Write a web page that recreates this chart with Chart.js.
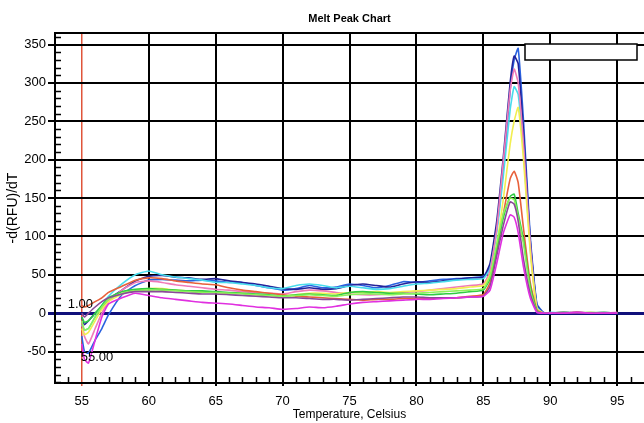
<!DOCTYPE html>
<html><head><meta charset="utf-8">
<script src="https://cdn.jsdelivr.net/npm/chart.js@4.4.0/dist/chart.umd.min.js"></script>
<style>html,body{margin:0;padding:0;background:#fff;}canvas{display:block;}</style>
</head><body>
<canvas id="c" width="644" height="423"></canvas>
<script>
// Temperature (Celsius) sample points
const temps = [55,55.2,55.5,56,56.5,57,
  58,59,60,61,62,63,64,65,66,67,68,69,70,71,72,73,74,75,76,77,78,79,80,81,82,83,84,85,
  85.5,86,86.5,87,87.3,87.6,88,88.5,89,89.5,
  90,91,92,93,94,95];

// -d(RFU)/dT series
const blue = [-30,-50,-52,-35,-20,-2,
  24,36,43,44,43,42,43,42,40,40,36,33,30,32,36,33,34,38,36,33,36,41,40,42,44,45,46,48,
  60,110,190,290,330,345,250,100,12,1,
  0,1,0,0,1,0];
const navy = [-5,-15,-10,0,8,18,
  30,42,48,49,47,46,44,45,42,40,38,35,32,31,33,31,32,36,38,36,34,38,41,40,42,44,46,47,
  65,120,205,300,335,325,235,95,10,0,
  0,0,1,0,0,0];
const cyan = [-15,-22,-20,-5,10,22,
  38,50,55,50,47,45,43,40,40,38,36,33,32,36,38,36,33,35,33,31,32,35,38,39,41,43,44,45,
  58,105,180,265,295,285,210,85,8,0,
  1,0,0,1,0,0];
const pink = [-10,-30,-40,-20,0,15,
  30,40,42,40,37,35,33,31,30,28,27,26,25,28,30,29,27,25,24,24,25,27,28,30,32,34,36,38,
  55,110,200,290,318,300,220,90,6,0,
  0,1,0,0,0,1];
const yellow = [-20,-28,-25,-10,5,15,
  25,30,32,32,30,29,28,27,26,26,24,23,22,24,26,26,25,27,27,28,27,28,29,30,31,32,34,36,
  50,90,150,220,250,268,200,80,6,0,
  0,0,0,1,0,0];
const red = [10,8,10,15,20,27,
  35,43,46,45,42,40,38,37,33,30,28,26,24,22,21,20,19,18,17,18,18,19,19,19,20,20,22,24,
  40,80,130,175,185,170,110,40,4,0,
  0,0,1,0,0,0];
const green = [-5,-12,-10,0,10,20,
  28,31,32,31,30,29,29,28,27,26,25,24,22,24,25,24,23,27,28,27,26,26,25,24,25,26,28,30,
  45,85,125,152,155,130,95,35,3,0,
  0,1,0,0,0,0];
const lime = [-10,-22,-20,-5,8,18,
  26,29,30,30,29,28,27,27,26,25,24,23,22,23,24,23,22,24,25,25,24,25,26,27,28,29,30,32,
  48,90,130,150,148,125,90,30,2,0,
  0,0,0,0,1,0];
const purple = [0,-5,0,8,15,20,
  25,28,28,28,27,26,25,25,24,23,22,21,20,20,19,18,18,17,18,19,20,21,21,20,20,20,21,22,
  35,75,115,145,142,120,70,25,2,0,
  0,0,0,0,0,0];
const magenta = [-40,-60,-65,-35,-5,12,
  20,26,23,20,18,16,14,13,12,10,8,7,5,6,8,7,9,12,14,15,16,17,18,18,19,20,21,22,
  30,65,105,128,125,105,60,20,1,0,
  0,0,1,0,0,0];

const xTicks = [55,60,65,70,75,80,85,90,95];
const yTicks = [-50,0,50,100,150,200,250,300,350];

const seriesList = [
  {vals: magenta, color:'#e030e0'},
  {vals: purple,  color:'#8a4898'},
  {vals: lime,    color:'#8cf25a'},
  {vals: green,   color:'#30cc44'},
  {vals: red,     color:'#e8603a'},
  {vals: yellow,  color:'#f2ee50'},
  {vals: pink,    color:'#f07ab8'},
  {vals: cyan,    color:'#48dcec'},
  {vals: navy,    color:'#23239a'},
  {vals: blue,    color:'#2a62e0'}
];

const FONT = '"Liberation Sans", Arial, sans-serif';

const decor = {
  id:'decor',
  afterDraw(chart){
    const {ctx, chartArea:a, scales:{x, y}} = chart;
    ctx.save();
    ctx.strokeStyle = '#000';
    // top border
    ctx.lineWidth = 2;
    ctx.beginPath(); ctx.moveTo(a.left, a.top); ctx.lineTo(a.right, a.top); ctx.stroke();
    // minor ticks
    ctx.lineWidth = 1.5;
    ctx.beginPath();
    for (let v = -90; v <= 360; v += 10) {
      if (v % 50 === 0) continue;
      const py = Math.round(y.getPixelForValue(v)) + 0.5;
      ctx.moveTo(a.left, py); ctx.lineTo(a.left + 6, py);
    }
    for (let t = 54; t <= 96; t += 1) {
      if (t % 5 === 0) continue;
      const px = Math.round(x.getPixelForValue(t)) + 0.5;
      ctx.moveTo(px, a.bottom); ctx.lineTo(px, a.bottom - 6);
    }
    ctx.stroke();
    // empty legend box
    ctx.fillStyle = '#fff';
    ctx.lineWidth = 1.5;
    ctx.fillRect(a.right - 119, a.top + 11, 112, 16);
    ctx.strokeRect(a.right - 119, a.top + 11, 112, 16);
    // cursor labels
    ctx.fillStyle = '#000';
    ctx.font = '13px ' + FONT;
    ctx.textAlign = 'left';
    ctx.textBaseline = 'bottom';
    ctx.fillText('1.00', x.getPixelForValue(55) - 14, y.getPixelForValue(0) - 2);
    ctx.textBaseline = 'top';
    ctx.fillText('55.00', x.getPixelForValue(55) - 1, y.getPixelForValue(-50) - 1);
    ctx.restore();
  }
};

new Chart(document.getElementById('c'), {
  type:'line',
  data:{
    datasets: seriesList.map(s => ({
      data: temps.map((t,i) => ({x:t, y:s.vals[i]})),
      borderColor: s.color,
      borderWidth: 1.6,
      pointRadius: 0,
      tension: 0.15,
      fill: false
    }))
  },
  options:{
    responsive:false,
    animation:false,
    devicePixelRatio:1,
    layout:{padding:{top:0,right:0,bottom:0,left:0}},
    plugins:{
      legend:{display:false},
      tooltip:{enabled:false},
      title:{
        display:true,
        text:'Melt Peak Chart',
        fullSize:false,
        color:'#000',
        font:{family:FONT, size:11, weight:'bold'},
        padding:{top:12, bottom:7.8}
      }
    },
    scales:{
      x:{
        type:'linear', min:53, max:97,
        afterBuildTicks: s => { s.ticks = xTicks.map(v => ({value:v})); },
        afterFit: s => { s.height = 40; },
        ticks:{color:'#000', font:{family:FONT, size:13}, padding:8, maxRotation:0, autoSkip:false},
        grid:{
          color: c => (c.tick && c.tick.value === 55) ? '#e0553a' : '#000',
          lineWidth: c => (c.tick && c.tick.value === 55) ? 1.5 : 2,
          tickLength:3
        },
        border:{color:'#000', width:2},
        title:{display:true, text:'Temperature, Celsius', color:'#000',
          font:{family:FONT, size:12}, padding:{top:0,bottom:1}}
      },
      y:{
        type:'linear', min:-91, max:365,
        afterBuildTicks: s => { s.ticks = yTicks.map(v => ({value:v})); },
        afterFit: s => { s.width = 55; },
        ticks:{color:'#000', font:{family:FONT, size:13}, padding:2, autoSkip:false},
        grid:{
          color: c => (c.tick && c.tick.value === 0) ? '#10107a' : '#000',
          lineWidth: c => (c.tick && c.tick.value === 0) ? 3 : 2,
          tickLength:7
        },
        border:{color:'#000', width:2},
        title:{display:true, text:'-d(RFU)/dT', color:'#000',
          font:{family:FONT, size:14}, padding:{top:5,bottom:0}}
      }
    }
  },
  plugins:[decor]
});
</script>
</body></html>
